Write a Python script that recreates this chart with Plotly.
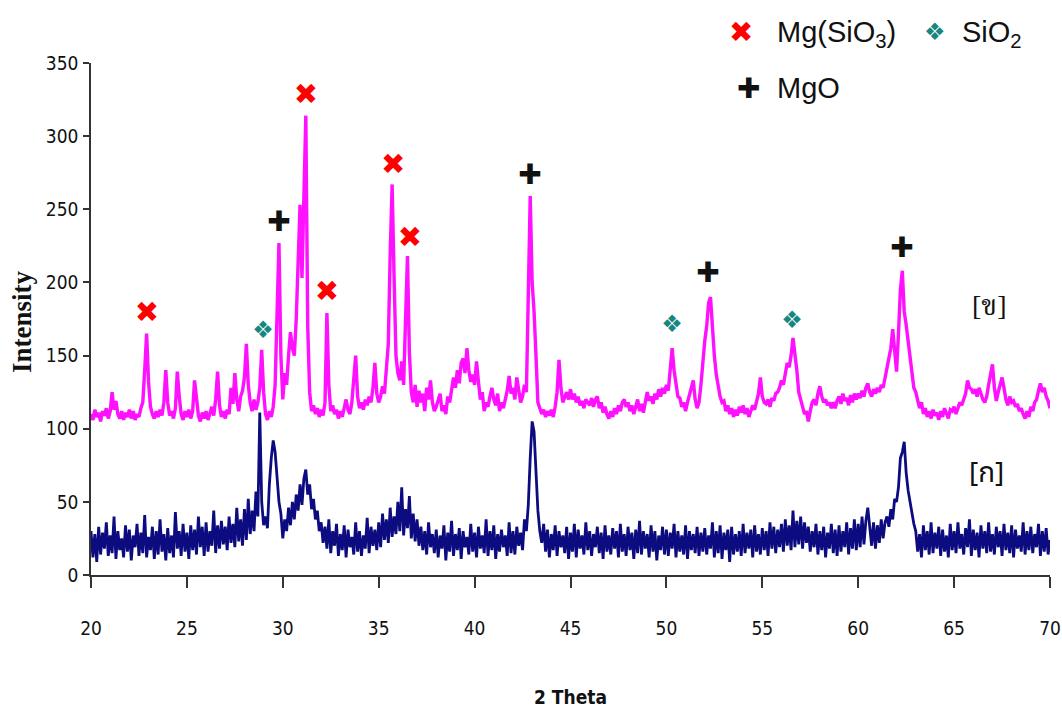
import plotly.graph_objects as go

# ---------------- data ----------------
theta_start = 20.0
theta_step = 0.1

# sample [ข] (magenta, upper pattern), one row per degree 20.0 .. 69.9, then 70.0
intensity_b = [
    110, 106, 113, 108, 111, 105, 112, 109, 114, 107,
    112, 125, 113, 119, 110, 107, 112, 106, 111, 108,
    113, 107, 112, 106, 110, 108, 114, 118, 140, 165,
    132, 115, 110, 107, 112, 108, 113, 109, 118, 140,
    118, 109, 112, 107, 114, 139, 122, 110, 106, 112,
    108, 113, 107, 112, 133, 118, 109, 105, 111, 107,
    112, 106, 110, 115, 109, 120, 139, 116, 108, 112,
    107, 113, 110, 128, 117, 138, 120, 112, 122, 126,
    135, 158, 130, 118, 112, 120, 113, 118, 128, 154,
    125, 110, 106, 112, 108, 115, 130, 185, 227, 150,
    120, 138, 130, 150, 166, 155, 150, 175, 215, 253,
    203, 255, 314, 170, 125, 112, 116, 110, 114, 108,
    113, 109, 118, 179, 130, 112, 116, 110, 113, 107,
    112, 108, 114, 120, 113, 110, 118, 132, 150, 122,
    114, 118, 113, 120, 116, 122, 118, 128, 145, 124,
    118, 122, 129, 124, 140, 158, 220, 267, 205, 150,
    138, 133, 146, 130, 175, 218, 152, 125, 118, 130,
    115, 126, 118, 124, 112, 128, 120, 133, 118, 112,
    115, 120, 124, 112, 116, 110, 122, 118, 128, 135,
    128, 140, 131, 145, 148, 138, 155, 140, 132, 137,
    130, 146, 132, 120, 125, 112, 118, 115, 122, 128,
    120, 116, 124, 112, 118, 114, 120, 126, 136, 124,
    128, 120, 135, 125, 118, 122, 130, 125, 200, 259,
    200, 180, 150, 118, 114, 110, 113, 108, 112, 109,
    113, 108, 115, 125, 147, 128, 118, 122, 125, 120,
    127, 120, 124, 118, 122, 116, 119, 114, 120, 118,
    116, 121, 115, 120, 122, 114, 118, 111, 115, 110,
    107, 112, 108, 114, 110, 116, 112, 118, 120, 115,
    118, 112, 116, 110, 115, 120, 112, 117, 111, 118,
    125, 119, 122, 117, 124, 120, 127, 122, 128, 124,
    130, 126, 140, 155, 140, 130, 122, 121, 115, 118,
    112, 118, 124, 128, 133, 120, 114, 118, 130, 148,
    160, 170, 186, 190, 168, 150, 137, 128, 122, 118,
    119, 112, 116, 110, 114, 108, 113, 109, 115, 111,
    116, 110, 114, 108, 112, 116, 113, 118, 124, 135,
    122, 118, 117, 120, 115, 121, 119, 124, 125, 128,
    133, 130, 138, 145, 142, 150, 162, 152, 140, 125,
    120, 115, 110, 112, 105, 112, 118, 120, 116, 124,
    129, 122, 118, 120, 116, 118, 114, 118, 114, 119,
    122, 117, 124, 119, 121, 116, 123, 118, 124, 120,
    124, 121, 126, 122, 128, 131, 125, 122, 127, 124,
    128, 125, 130, 128, 135, 142, 150, 155, 168, 150,
    139, 165, 195, 208, 180, 171, 160, 151, 138, 128,
    125, 119, 114, 118, 110, 114, 108, 112, 107, 113,
    109, 111, 106, 112, 108, 114, 110, 107, 113, 112,
    115, 110, 114, 118, 116, 120, 124, 133, 128, 127,
    124, 127, 122, 128, 124, 120, 118, 122, 130, 138,
    144, 128, 119, 125, 130, 135, 128, 120, 116, 122,
    118, 119, 115, 117, 112, 114, 110, 107, 112, 108,
    115, 112, 118, 120, 126, 131, 125, 128, 122, 119,
    114,
]

# sample [ก] (navy, lower pattern)
intensity_a = [
    30, 12, 28, 9, 33, 14, 29, 18, 36, 13,
    27, 15, 40, 11, 30, 17, 25, 12, 34, 16,
    31, 10, 27, 19, 35, 13, 29, 15, 41, 12,
    26, 17, 33, 11, 30, 14, 38, 16, 28, 10,
    32, 15, 27, 12, 43, 18, 30, 13, 35, 16,
    29, 11, 34, 17, 31, 14, 40, 19, 33, 13,
    36, 16, 30, 20, 44, 15, 34, 18, 37, 21,
    33, 17, 40, 22, 35, 19, 46, 23, 38, 20,
    45, 24, 52, 28, 44, 30, 57, 40, 111, 50,
    34, 40, 32, 62, 80, 92, 84, 66, 50, 42,
    25, 38, 30, 46, 34, 50, 38, 55, 44, 62,
    48, 66, 72, 55, 62, 45, 52, 38, 44, 30,
    36, 22, 33, 18, 38, 15, 30, 20, 35, 13,
    28, 17, 34, 12, 31, 19, 26, 14, 36, 16,
    30, 13, 27, 18, 39, 15, 33, 20, 31, 17,
    36, 19, 42, 24, 38, 22, 46, 26, 40, 28,
    50, 30, 60, 27, 45, 32, 54, 25, 42, 23,
    38, 20, 33, 17, 30, 14, 36, 19, 28, 15,
    31, 12, 27, 18, 34, 10, 29, 16, 37, 13,
    28, 17, 32, 11, 30, 19, 26, 14, 35, 16,
    29, 12, 33, 18, 27, 15, 38, 13, 30, 17,
    34, 11, 28, 16, 31, 19, 27, 13, 36, 15,
    30, 14, 33, 20, 29, 17, 38, 30, 48, 80,
    105, 98, 70, 44, 30, 22, 35, 16, 31, 12,
    28, 17, 34, 13, 30, 19, 27, 15, 33, 11,
    29, 16, 35, 12, 31, 18, 27, 14, 36, 17,
    30, 13, 28, 19, 33, 15, 29, 11, 34, 16,
    27, 14, 32, 18, 30, 12, 35, 16, 28, 13,
    33, 17, 29, 11, 31, 15, 37, 14, 30, 18,
    28, 12, 34, 16, 30, 10, 27, 17, 33, 14,
    31, 13, 29, 18, 35, 12, 30, 16, 27, 14,
    34, 11, 30, 17, 28, 15, 33, 13, 29, 16,
    32, 14, 27, 18, 36, 12, 30, 15, 34, 11,
    29, 17, 31, 9, 33, 14, 28, 16, 30, 13,
    35, 15, 29, 18, 31, 12, 34, 16, 28, 14,
    32, 17, 30, 13, 36, 18, 33, 15, 31, 19,
    35, 16, 38, 20, 34, 17, 44, 19, 37, 21,
    40, 18, 36, 22, 33, 16, 30, 19, 35, 14,
    30, 17, 33, 12, 29, 18, 35, 15, 31, 13,
    34, 16, 30, 19, 36, 14, 32, 18, 38, 17,
    35, 19, 40, 21, 37, 46, 33, 20, 36, 18,
    34, 22, 38, 25, 36, 40, 33, 45, 38, 52,
    50, 60, 80, 84, 91, 70, 58, 50, 42, 35,
    30, 16, 28, 12, 34, 17, 30, 14, 36, 15,
    29, 18, 33, 13, 31, 16, 27, 12, 35, 17,
    30, 15, 36, 18, 28, 14, 32, 19, 38, 13,
    31, 17, 29, 12, 34, 18, 30, 15, 36, 16,
    28, 14, 33, 19, 30, 13, 35, 17, 29, 15,
    34, 12, 31, 18, 27, 16, 36, 14, 30, 17,
    33, 15, 28, 19, 35, 13, 30, 16, 32, 14,
    24,
]

two_theta = [round(theta_start + theta_step * i, 1) for i in range(len(intensity_b))]

# phase markers (peak identification)
mgsio3_theta = [22.92, 31.21, 32.30, 35.75, 36.63]
mgsio3_level = [178, 327, 192, 279, 229]
sio2_theta = [28.97, 50.29, 56.55]
sio2_level = [166, 170, 173]
mgo_theta = [29.80, 42.89, 52.17, 62.28]
mgo_level = [240, 272, 205, 222]

x_ticks = [20, 25, 30, 35, 40, 45, 50, 55, 60, 65, 70]
y_ticks = [0, 50, 100, 150, 200, 250, 300, 350]

# ---------------- figure ----------------
RED = "#ff0000"
TEAL = "#16877f"
BLACK = "#111111"
X_SIZE, D_SIZE, P_SIZE = 29, 24, 28

fig = go.Figure()
fig.add_trace(go.Scatter(x=two_theta, y=intensity_a, mode="lines",
                         line=dict(color="#0c0c80", width=2.8), hoverinfo="skip"))
fig.add_trace(go.Scatter(x=two_theta, y=intensity_b, mode="lines",
                         line=dict(color="#ff10ff", width=3.4), hoverinfo="skip"))

glyph_font = "DejaVu Sans"
fig.add_trace(go.Scatter(x=mgsio3_theta, y=mgsio3_level, mode="text",
                         text=["✖"] * len(mgsio3_theta), textposition="middle center",
                         textfont=dict(family=glyph_font, size=X_SIZE, color=RED),
                         cliponaxis=False, hoverinfo="skip"))
fig.add_trace(go.Scatter(x=sio2_theta, y=sio2_level, mode="text",
                         text=["❖"] * len(sio2_theta), textposition="middle center",
                         textfont=dict(family=glyph_font, size=D_SIZE, color=TEAL),
                         cliponaxis=False, hoverinfo="skip"))
fig.add_trace(go.Scatter(x=mgo_theta, y=mgo_level, mode="text",
                         text=["✚"] * len(mgo_theta), textposition="middle center",
                         textfont=dict(family=glyph_font, size=P_SIZE, color=BLACK),
                         cliponaxis=False, hoverinfo="skip"))

tick_font = dict(family="DejaVu Sans Condensed, Liberation Sans, Arial", size=19, color="#111")

fig.update_layout(
    width=1062, height=713,
    margin=dict(l=91, r=12, t=63, b=138, autoexpand=False),
    paper_bgcolor="white", plot_bgcolor="white",
    showlegend=False,
    xaxis=dict(range=[20, 70], tickvals=x_ticks, ticktext=[str(v) for v in x_ticks],
               ticks="outside", ticklen=11, tickwidth=1.5, tickcolor="#333",
               showline=True, linecolor="#333", linewidth=1.5, automargin=False,
               showgrid=False, zeroline=False, tickfont=tick_font,
               ticklabelstandoff=24),
    yaxis=dict(range=[0, 350], tickvals=y_ticks, ticktext=[str(v) for v in y_ticks],
               ticks="outside", ticklen=6, tickwidth=1.5, tickcolor="#333",
               showline=True, linecolor="#333", linewidth=1.5, automargin=False,
               showgrid=False, zeroline=False, tickfont=tick_font,
               ticklabelstandoff=1),
)

def px_x(p):
    return (p - 91) / 959.0

def px_y(p):
    return (575 - p) / 512.0

legend_font = dict(family="Liberation Sans, Arial", size=29, color="#111")

def label(text, x, y, font, xanchor="center", **kw):
    return dict(text=text, x=px_x(x), y=px_y(y), xref="paper", yref="paper",
                xanchor=xanchor, yanchor="middle", showarrow=False, font=font, **kw)

ann = [
    # axis titles
    label("<b>2 Theta</b>", 570, 697,
          dict(family="DejaVu Sans Condensed, Liberation Sans, Arial", size=19, color="#111")),
    label("<b>Intensity</b>", 22, 322,
          dict(family="Liberation Serif, Times New Roman", size=27, color="#111"), textangle=-90),
    # legend
    label("✖", 741, 32, dict(family=glyph_font, size=X_SIZE, color=RED)),
    label("Mg(SiO<sub>3</sub>)", 775, 34, legend_font, xanchor="left"),
    label("❖", 935, 32, dict(family=glyph_font, size=D_SIZE, color=TEAL)),
    label("SiO<sub>2</sub>", 960, 34, legend_font, xanchor="left"),
    label("✚", 748, 88, dict(family=glyph_font, size=P_SIZE, color=BLACK)),
    label("MgO", 775, 88, legend_font, xanchor="left"),
    # sample labels
    label("[ข]", 989, 305,
          dict(family="Liberation Serif, Noto Serif Thai, Noto Sans Thai, serif", size=28, color="#111")),
    label("[ก]", 986, 473,
          dict(family="Noto Sans Thai, Tahoma, Noto Sans, sans-serif", size=28, color="#111")),
]
fig.update_layout(annotations=ann)

fig.write_html("out.html")
